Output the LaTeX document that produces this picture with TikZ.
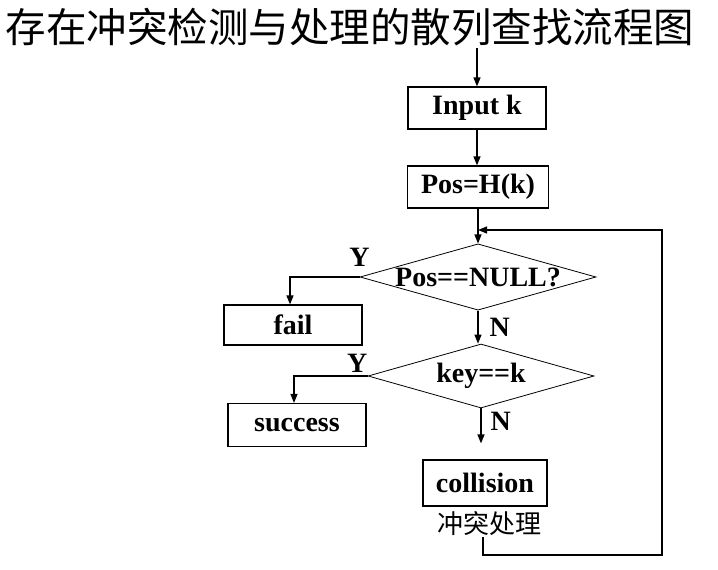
\documentclass[tikz,border=0pt]{standalone}
\usepackage{fontspec}
\setmainfont{Liberation Serif}
\newfontfamily\cjk{Noto Sans CJK SC}
\usetikzlibrary{arrows.meta, shapes.geometric}
\tikzset{
  stepbox/.style={draw, line width=1.2pt, inner sep=0pt,
    minimum width=138pt, minimum height=42pt,
    font=\fontsize{28}{30}\selectfont\bfseries},
  testbox/.style={diamond, draw, line width=0.8pt, inner sep=0pt, aspect=3.5,
    font=\fontsize{28}{30}\selectfont\bfseries},
  branch/.style={inner sep=1pt, font=\fontsize{28}{30}\selectfont\bfseries},
  flow/.style={line width=1.2pt, -{Triangle[length=9pt, width=7pt]}},
}
\begin{document}
\begin{tikzpicture}[x=1pt, y=-1pt]
  \useasboundingbox (0,0) rectangle (718,570);
  % title
  \node[inner sep=0pt, font=\fontsize{40.5}{42}\selectfont\cjk] (title) at (350,27)
    {存在冲突检测与处理的散列查找流程图};
  \coordinate (entry) at (477,48);
  % main column
  \node[stepbox] (input) at (477,108) {Input k};
  \node[stepbox, minimum width=141pt] (hash) at (478,187) {Pos=H(k)};
  \node[testbox, minimum width=236pt, minimum height=66pt] (isnull) at (478,277) {Pos==NULL?};
  \node[testbox, minimum width=226pt, minimum height=64pt] (iskey) at (481,376) {key==k};
  \node[stepbox, minimum width=124pt, minimum height=46pt] (collision) at (485,483) {collision};
  \node[inner sep=1pt, font=\fontsize{26}{28}\selectfont\cjk] (note) at (489,524) {冲突处理};
  % side boxes
  \node[stepbox, minimum height=40pt] (fail) at (293,325) {fail};
  \node[stepbox, minimum height=43pt] (success) at (297,425) {success};
  % connectors
  \draw[flow] (entry) -- (entry |- input.north);
  \draw[flow] (input.south) -- (input.south |- hash.north);
  \draw[flow] (hash.south) -- (hash.south |- isnull.north);
  \draw[flow] (isnull.south) -- node[branch, right=10pt] {N} (isnull.south |- iskey.north);
  \draw[flow, shorten >=16pt] (iskey.south) -- node[branch, right=8pt, pos=0.25] {N}
    (iskey.south |- collision.north);
  \draw[flow] (isnull.west) -| ([xshift=-3pt]fail.north);
  \node[branch, anchor=south, above=9pt] at (isnull.west) {Y};
  \draw[flow] (iskey.west) -| ([xshift=-3pt]success.north);
  \node[branch, anchor=south east] at ([xshift=1pt, yshift=2pt]iskey.west) {Y};
  % retry loop
  \coordinate (loop) at (662,555);
  \coordinate (back) at (478,230);
  \draw[flow] ([xshift=-6pt]note.south) |- (loop) |- (back);
\end{tikzpicture}
\end{document}
